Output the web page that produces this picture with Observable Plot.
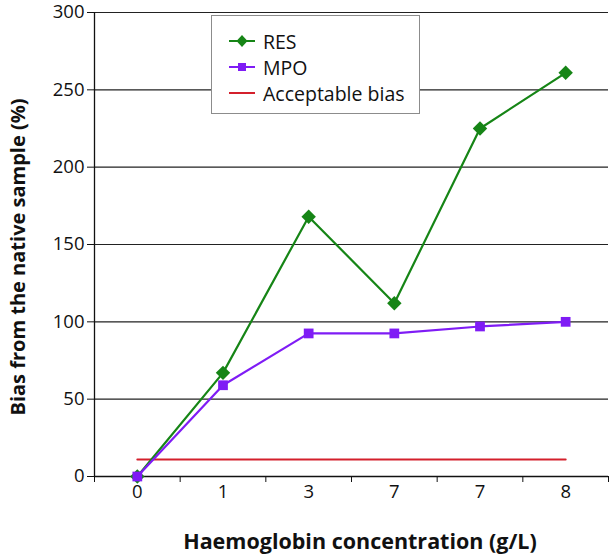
<!DOCTYPE html>
<html>
<head>
<meta charset="utf-8">
<script src="https://cdn.jsdelivr.net/npm/d3@7"></script>
<script src="https://cdn.jsdelivr.net/npm/@observablehq/plot@0.6"></script>
<style>
  html, body { margin: 0; padding: 0; background: #fff; }
  #wrap { position: relative; width: 610px; height: 554px; font-family: "Open Sans", sans-serif; }
  #wrap svg g[aria-label$="tick label"] { font-size: 18.5px !important; }
  #wrap svg g[aria-label$="tick label"] text { font-size: 18.5px !important; }
  #legend { position: absolute; left: 211px; top: 15px; width: 209px; height: 99px; border: 1px solid #8c8c8c; background: #fff; box-sizing: border-box; }
  .item { position: absolute; left: 17px; height: 20px; display: flex; align-items: center; font-size: 19.5px; color: #111; white-space: nowrap; }
  .item svg { margin-right: 8px; }
</style>
</head>
<body>
<div id="wrap"></div>
<script>
const categories = ["0", "1", "3", "7", "7", "8"];
const resValues = [0, 67, 168, 112, 225, 261];
const mpoValues = [0, 59, 92.5, 92.5, 97, 100];
const acceptableBias = 11;
const yTicks = [0, 50, 100, 150, 200, 250, 300];
const green = "#168516", purple = "#7f1cf5", red = "#d4202c";

const idx = categories.map((_, i) => i);
const res = idx.map(i => ({i, v: resValues[i]}));
const mpo = idx.map(i => ({i, v: mpoValues[i]}));
const bias = [{i: idx[0], v: acceptableBias}, {i: idx[idx.length - 1], v: acceptableBias}];
const bounds = [...idx.map(i => i - 0.5), idx.length - 0.5];

const chart = Plot.plot({
  width: 610, height: 554,
  marginLeft: 94, marginRight: 2, marginTop: 12, marginBottom: 78,
  style: {fontFamily: "Open Sans, sans-serif", fontSize: "18.5px", color: "#111", background: "#fff"},
  x: {type: "linear", domain: [-0.5, idx.length - 0.5]},
  y: {domain: [0, 300]},
  marks: [
    Plot.ruleY(yTicks.filter(d => d > 0), {stroke: "#222", strokeWidth: 1.2}),
    Plot.axisY({ticks: yTicks, tickSize: 7, tickPadding: 3, label: null, stroke: "#111"}),
    Plot.axisX({ticks: bounds, tickSize: 6, tickFormat: () => "", label: null, stroke: "#111"}),
    Plot.axisX({ticks: idx, tickSize: 0, tickPadding: 8, tickFormat: i => categories[i], label: null}),
    Plot.ruleX([-0.5], {stroke: "#111", strokeWidth: 1.3}),
    Plot.ruleY([0], {stroke: "#111", strokeWidth: 1.3}),
    Plot.line(bias, {x: "i", y: "v", stroke: red, strokeWidth: 2}),
    Plot.line(res, {x: "i", y: "v", stroke: green, strokeWidth: 2.2}),
    Plot.dot(res, {x: "i", y: "v", symbol: "diamond2", fill: green, r: 6.5}),
    Plot.line(mpo, {x: "i", y: "v", stroke: purple, strokeWidth: 2.2}),
    Plot.dot(mpo, {x: "i", y: "v", symbol: "square", fill: purple, r: 5.5})
  ]
});

const svg = d3.select(chart);
svg.append("text")
  .attr("transform", "translate(17,257) rotate(-90)")
  .attr("text-anchor", "middle").attr("dominant-baseline", "central")
  .attr("font-family", "Open Sans, sans-serif").attr("font-weight", "bold").attr("font-size", 20)
  .attr("fill", "#111")
  .text("Bias from the native sample (%)");
svg.append("text")
  .attr("x", 360).attr("y", 540)
  .attr("text-anchor", "middle").attr("dominant-baseline", "central")
  .attr("font-family", "Open Sans, sans-serif").attr("font-weight", "bold").attr("font-size", 21.5)
  .attr("fill", "#111")
  .text("Haemoglobin concentration (g/L)");

const wrap = document.getElementById("wrap");
wrap.appendChild(chart);

const legendItems = [
  {label: "RES", color: green, marker: "diamond"},
  {label: "MPO", color: purple, marker: "square"},
  {label: "Acceptable bias", color: red, marker: null}
];
const legend = document.createElement("div");
legend.id = "legend";
legendItems.forEach((it, k) => {
  const row = document.createElement("div");
  row.className = "item";
  row.style.top = (15 + k * 26) + "px";
  let m = "";
  if (it.marker === "diamond") m = `<path d="M13,4 L18.5,10 L13,16 L7.5,10 Z" fill="${it.color}"/>`;
  if (it.marker === "square") m = `<rect x="9" y="6" width="8" height="8" fill="${it.color}"/>`;
  row.innerHTML = `<svg width="26" height="20"><line x1="0" x2="26" y1="10" y2="10" stroke="${it.color}" stroke-width="2"/>${m}</svg><span>${it.label}</span>`;
  legend.appendChild(row);
});
wrap.appendChild(legend);
</script>
</body>
</html>
